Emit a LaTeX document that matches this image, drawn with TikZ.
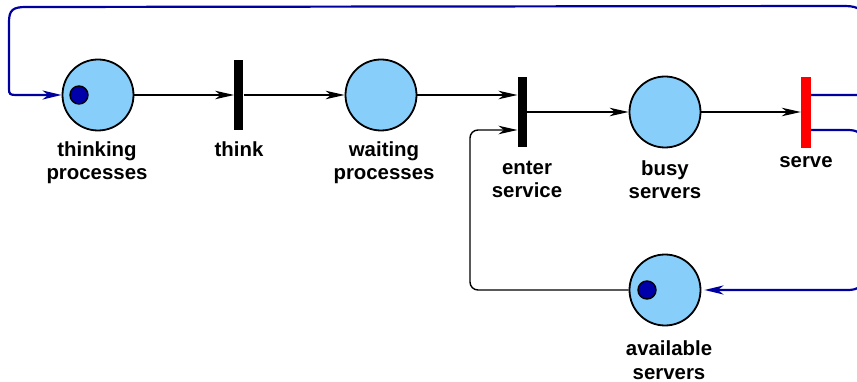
\documentclass[tikz,border=0pt]{standalone}
\usepackage{fontspec}
\setmainfont{Liberation Sans}
\usetikzlibrary{arrows.meta,calc}

\definecolor{placefill}{RGB}{135,206,250}
\definecolor{tokenfill}{RGB}{0,0,170}
\definecolor{loopblue}{RGB}{0,0,160}
\definecolor{servered}{RGB}{255,0,0}

\tikzset{
  place/.style={circle, draw=black, line width=1.8pt, fill=placefill,
    minimum size=71pt, inner sep=0pt},
  token/.style={circle, draw=black, line width=1.4pt, fill=tokenfill,
    minimum size=18pt, inner sep=0pt},
  transbar/.style={rectangle, fill=black, draw=none,
    minimum width=9pt, minimum height=70pt, inner sep=0pt},
  % multi-line labels are placed by the baseline of their last line
  lbl/.style={font=\fontsize{20.4}{23.5}\selectfont\bfseries, align=center,
    anchor=base, inner sep=0pt},
  arc/.style={draw=black, line width=1.4pt,
    -{Stealth[length=19pt,width=8.5pt,inset=5.5pt]}},
  backarc/.style={draw=loopblue, line width=2.2pt,
    -{Stealth[length=19pt,width=9pt,inset=5.5pt]}}
}

\begin{document}
\begin{tikzpicture}[x=1pt,y=-1pt]
  \useasboundingbox (0,0) rectangle (857,382);
  \clip (0,0) rectangle (857,382);

  % places
  \node[place] (thinking) at (98,95) {};
  \node[place] (waiting)  at (381,95) {};
  \node[place] (busy)     at (665,112) {};
  \node[place] (avail)    at (665,290) {};

  % tokens
  \node[token] (tok1) at (79,95) {};
  \node[token] (tok2) at (647,290) {};

  % transitions
  \node[transbar] (think) at (238.8,95) {};
  \node[transbar] (enter) at (522.2,112) {};
  \node[transbar, fill=servered, minimum width=10pt, minimum height=71pt] (serve) at (806,112.5) {};

  % labels
  \node[lbl] (lthinking) at (97,180) {thinking\\processes};
  \node[lbl] (lthink)    at (239,156.5) {think};
  \node[lbl] (lwaiting)  at (384,180) {waiting\\processes};
  \node[lbl] (lenter)    at (527,198) {enter\\service};
  \node[lbl] (lbusy)     at (665,199) {busy\\servers};
  \node[lbl] (lserve)    at (806,168) {serve};
  \node[lbl] (lavail)    at (669,379) {available\\servers};

  % forward arcs
  \draw[arc] (thinking.east) -- (think.west |- thinking.east);
  \draw[arc] (think.east |- waiting.west) -- (waiting.west);
  \draw[arc] (waiting.east) -- (enter.west |- waiting.east);
  \draw[arc] (enter.east |- busy.west) -- (busy.west);
  \draw[arc] (busy.east) -- (serve.west |- busy.east);

  % server returns to the pool and re-enters service
  \coordinate (poolin) at ($(enter.west)+(0,18)$);
  \draw[arc, rounded corners=8pt] (avail.west) -| (470,130) -- (poolin);

  % back arcs out of serve
  \coordinate (outup) at ($(serve.east)+(0,-17.5)$);
  \coordinate (outdown) at ($(serve.east)+(0,17.5)$);
  \draw[backarc] (outup) -- (862,95) .. controls (866,95) and (866,95) .. (866,91)
    -- (866,24) .. controls (866,11) and (859,6) .. (845,6)
    -- (26,7) .. controls (13,7) and (9,10) .. (9,22)
    -- (9,89) .. controls (9,94) and (10,95) .. (16,95) -- (thinking.west);
  \draw[backarc, shorten >=3pt] (outdown) -- (848,130) .. controls (858,130) and (864,134) .. (864,146)
    -- (864,274) .. controls (864,286) and (858,290) .. (848,290) -- (avail.east);
\end{tikzpicture}
\end{document}
